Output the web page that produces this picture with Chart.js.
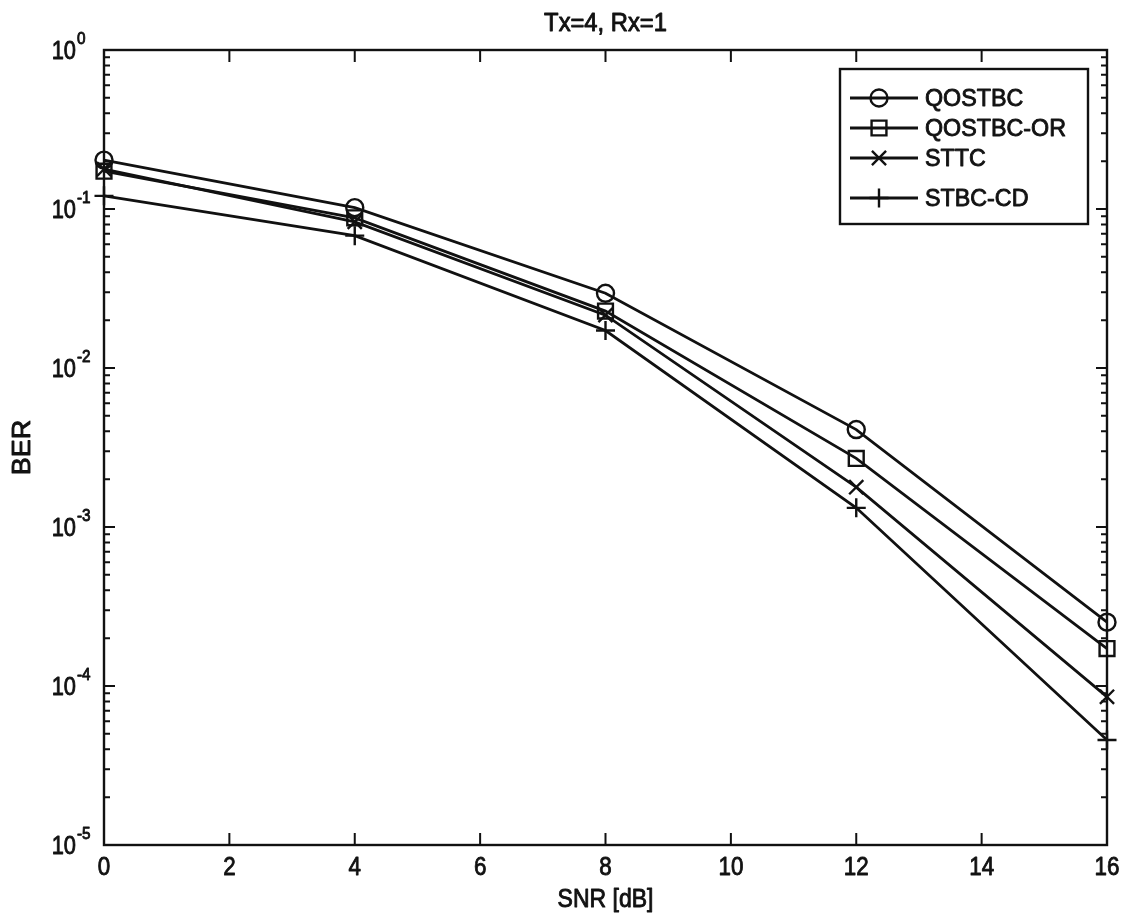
<!DOCTYPE html>
<html>
<head>
<meta charset="utf-8">
<script src="https://cdn.jsdelivr.net/npm/chart.js@4.4.1/dist/chart.umd.min.js"></script>
<style>
html,body{margin:0;padding:0;background:#fff;}
#wrap{width:1126px;height:918px;}
</style>
</head>
<body>
<div id="wrap"><canvas id="c" width="1126" height="918"></canvas></div>
<script>
// ---- data ----
const snr = [0, 4, 8, 12, 16];
const seriesNames = ['QOSTBC', 'QOSTBC-OR', 'STTC', 'STBC-CD'];
const qostbc   = [0.203, 0.102, 0.0295, 0.0041, 0.000252];
const qostbcOr = [0.173, 0.088, 0.0228, 0.0027, 0.000172];
const sttc     = [0.178, 0.083, 0.0215, 0.00178, 0.0000855];
const stbcCd   = [0.121, 0.068, 0.0172, 0.00132, 0.0000457];
const xTickValues = [0, 2, 4, 6, 8, 10, 12, 14, 16];
const yDecades = [-5, -4, -3, -2, -1, 0];
const titleText = 'Tx=4, Rx=1';
const xTitle = 'SNR [dB]';
const yTitle = 'BER';

const FONT = '"Liberation Sans", Arial, Helvetica, sans-serif';
const INK = '#111';

const markerStyles = [
  {pointStyle: 'circle', radius: 8.5},
  {pointStyle: 'rect', radius: 10.5},
  {pointStyle: 'crossRot', radius: 10},
  {pointStyle: 'cross', radius: 9.5}
];
const allValues = [qostbc, qostbcOr, sttc, stbcCd];

const datasets = allValues.map((vals, i) => ({
  label: seriesNames[i],
  data: snr.map((x, k) => ({x: x, y: vals[k]})),
  borderColor: INK,
  borderWidth: 2.8,
  backgroundColor: 'rgba(0,0,0,0)',
  pointBackgroundColor: 'rgba(0,0,0,0)',
  pointBorderColor: INK,
  pointBorderWidth: 2.4,
  pointStyle: markerStyles[i].pointStyle,
  pointRadius: markerStyles[i].radius,
  pointHoverRadius: markerStyles[i].radius,
  tension: 0,
  clip: false,
  fill: false
}));

function heavyText(ctx, text, x, y, sx) {
  ctx.save();
  ctx.translate(x, y);
  ctx.scale(sx || 1, 1);
  ctx.lineWidth = 0.9;
  ctx.strokeStyle = INK;
  ctx.lineJoin = 'round';
  ctx.strokeText(text, 0, 0);
  ctx.fillText(text, 0, 0);
  ctx.restore();
}

const framePlugin = {
  id: 'frame',
  beforeDatasetsDraw(chart) {
    const {ctx, chartArea: a, scales} = chart;
    const xs = scales.x, ys = scales.y;
    ctx.save();
    ctx.strokeStyle = INK;
    ctx.lineWidth = 2.4;
    ctx.strokeRect(a.left, a.top, a.right - a.left, a.bottom - a.top);
    ctx.lineWidth = 2;
    ctx.beginPath();
    xTickValues.forEach(v => {
      const px = xs.getPixelForValue(v);
      ctx.moveTo(px, a.bottom); ctx.lineTo(px, a.bottom - 12);
      ctx.moveTo(px, a.top); ctx.lineTo(px, a.top + 12);
    });
    yDecades.forEach(e => {
      for (let m = 1; m <= 9; m++) {
        if (e === 0 && m > 1) break;
        const v = m * Math.pow(10, e);
        const py = ys.getPixelForValue(v);
        const len = m === 1 ? 11 : 6;
        ctx.moveTo(a.left, py); ctx.lineTo(a.left + len, py);
        ctx.moveTo(a.right, py); ctx.lineTo(a.right - len, py);
      }
    });
    ctx.stroke();
    ctx.restore();
  },
  afterDraw(chart) {
    const {ctx, chartArea: a, scales} = chart;
    const xs = scales.x, ys = scales.y;
    ctx.save();
    ctx.fillStyle = INK;
    // x tick labels
    ctx.font = '26px ' + FONT;
    ctx.textAlign = 'center';
    ctx.textBaseline = 'middle';
    xTickValues.forEach(v => {
      heavyText(ctx, String(v), xs.getPixelForValue(v), 868, 0.86);
    });
    // y tick labels 10^e
    yDecades.forEach(e => {
      const py = ys.getPixelForValue(Math.pow(10, e));
      ctx.font = '26px ' + FONT;
      ctx.textAlign = 'right';
      ctx.textBaseline = 'middle';
      heavyText(ctx, '10', 76, py + 2, 0.84);
      ctx.font = '17px ' + FONT;
      ctx.textAlign = 'left';
      heavyText(ctx, e === 0 ? '0' : '-' + Math.abs(e), 77, py - 11, 0.9);
    });
    // title and axis titles
    ctx.font = '25px ' + FONT;
    ctx.textAlign = 'center';
    ctx.textBaseline = 'middle';
    heavyText(ctx, titleText, (a.left + a.right) / 2, 24, 0.95);
    heavyText(ctx, xTitle, (a.left + a.right) / 2, 900, 0.92);
    ctx.save();
    ctx.translate(23, (a.top + a.bottom) / 2);
    ctx.rotate(-Math.PI / 2);
    heavyText(ctx, yTitle, 0, 0, 1.08);
    ctx.restore();

    // legend
    const box = {left: 840, top: 69, right: 1088, bottom: 224};
    ctx.fillStyle = '#fff';
    ctx.fillRect(box.left, box.top, box.right - box.left, box.bottom - box.top);
    ctx.strokeStyle = INK;
    ctx.lineWidth = 2.4;
    ctx.strokeRect(box.left, box.top, box.right - box.left, box.bottom - box.top);
    const rowY = [98, 128, 158, 198];
    chart.data.datasets.forEach((ds, i) => {
      const y = rowY[i];
      ctx.strokeStyle = INK;
      ctx.lineWidth = 2.8;
      ctx.beginPath();
      ctx.moveTo(850, y); ctx.lineTo(918, y);
      ctx.stroke();
      ctx.fillStyle = 'rgba(0,0,0,0)';
      ctx.lineWidth = 2.4;
      Chart.helpers.drawPoint(ctx, {pointStyle: ds.pointStyle, radius: ds.pointRadius, borderWidth: 2.4, rotation: 0}, 879, y);
      ctx.fillStyle = INK;
      ctx.font = '24px ' + FONT;
      ctx.textAlign = 'left';
      ctx.textBaseline = 'middle';
      heavyText(ctx, ds.label, 925, y + 1, 0.97);
    });
    ctx.restore();
  }
};

new Chart(document.getElementById('c'), {
  type: 'line',
  data: {datasets: datasets},
  options: {
    responsive: false,
    animation: false,
    events: [],
    layout: {padding: {top: 50, right: 19, left: 0, bottom: 0}},
    plugins: {legend: {display: false}, title: {display: false}, tooltip: {enabled: false}},
    scales: {
      x: {
        type: 'linear', min: 0, max: 16,
        ticks: {display: false, stepSize: 2},
        grid: {display: false},
        border: {display: false},
        afterFit(s) { s.height = 73; }
      },
      y: {
        type: 'logarithmic', min: 1e-5, max: 1,
        ticks: {display: false},
        grid: {display: false},
        border: {display: false},
        afterFit(s) { s.width = 104; }
      }
    }
  },
  plugins: [framePlugin]
});
</script>
</body>
</html>
